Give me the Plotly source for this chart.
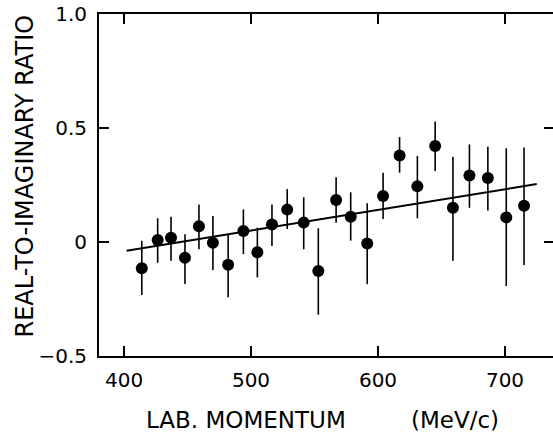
import plotly.graph_objects as go

momentum = [414, 426.5, 437, 448, 459, 470, 482, 494, 505, 516.5, 528.5, 541.5, 553,
            567, 578.5, 591.5, 604, 617, 631, 645, 659, 672, 686.5, 701, 715]
ratio = [-0.115, 0.009, 0.019, -0.069, 0.069, -0.003, -0.10, 0.048, -0.045, 0.077, 0.142, 0.085, -0.127,
         0.184, 0.111, -0.007, 0.202, 0.379, 0.244, 0.421, 0.15, 0.292, 0.281, 0.108, 0.159]
err_plus = [0.121, 0.095, 0.092, 0.103, 0.096, 0.117, 0.133, 0.095, 0.108, 0.088, 0.091, 0.111, 0.187,
            0.10, 0.107, 0.177, 0.102, 0.081, 0.133, 0.107, 0.224, 0.136, 0.137, 0.303, 0.256]
err_minus = [0.117, 0.10, 0.101, 0.115, 0.101, 0.12, 0.142, 0.101, 0.11, 0.094, 0.085, 0.117, 0.192,
             0.10, 0.105, 0.178, 0.101, 0.075, 0.14, 0.11, 0.232, 0.142, 0.143, 0.301, 0.26]

fit_x = [402, 725]
fit_y = [-0.038, 0.254]

x_ticks = [400, 500, 600, 700]
y_ticks = [-0.5, 0, 0.5, 1.0]
y_ticktext = ["\u22120.5", "0", "0.5", "1.0"]

FONT = "DejaVu Sans"

fig = go.Figure()
fig.add_trace(go.Scatter(x=fit_x, y=fit_y, mode="lines",
                         line=dict(color="black", width=2), showlegend=False))
fig.add_trace(go.Scatter(
    x=momentum, y=ratio, mode="markers",
    marker=dict(color="black", size=12, symbol="circle"),
    error_y=dict(type="data", symmetric=False, array=err_plus, arrayminus=err_minus,
                 color="black", thickness=1.6, width=0),
    showlegend=False))
# invisible trace to activate the right axis for mirrored ticks
fig.add_trace(go.Scatter(x=[400], y=[0], yaxis="y2", mode="markers",
                         marker=dict(opacity=0), showlegend=False, hoverinfo="skip"))

fig.update_layout(
    width=553, height=433,
    margin=dict(l=99, r=0, t=14, b=77),
    paper_bgcolor="white", plot_bgcolor="white",
    font=dict(family=FONT, color="black", size=20),
    xaxis=dict(range=[380.3, 737.8], tickvals=x_ticks, ticks="inside", ticklen=10,
               tickwidth=2, tickcolor="black", showline=True, linecolor="black",
               linewidth=2, mirror="ticks", showgrid=False, zeroline=False,
               tickfont=dict(family=FONT, size=20), ticklabelstandoff=5),
    yaxis=dict(range=[-0.5, 1.0], tickvals=y_ticks, ticktext=y_ticktext, ticks="inside",
               ticklen=10, tickwidth=2, tickcolor="black", showline=True,
               linecolor="black", linewidth=2, showgrid=False, zeroline=False,
               tickfont=dict(family=FONT, size=20), ticklabelstandoff=6),
    yaxis2=dict(range=[-0.5, 1.0], overlaying="y", side="right", tickvals=y_ticks,
                ticks="inside", ticklen=9, tickwidth=2, tickcolor="black",
                showticklabels=False, showline=False, showgrid=False, zeroline=False),
    annotations=[
        dict(text="REAL-TO-IMAGINARY RATIO", textangle=-90, xref="paper", yref="paper",
             x=(24-99)/454, y=(356-176.5)/342,
             xanchor="center", yanchor="middle", showarrow=False,
             font=dict(family=FONT, size=24)),
        dict(text="LAB. MOMENTUM", xref="paper", yref="paper",
             x=(144-99)/454, y=-(419.5-356)/342, xanchor="left", yanchor="middle",
             showarrow=False, font=dict(family=FONT, size=23)),
        dict(text="(MeV/c)", xref="paper", yref="paper",
             x=(501-99)/454, y=-(419.5-356)/342, xanchor="right", yanchor="middle",
             showarrow=False, font=dict(family=FONT, size=23)),
    ],
)

fig.write_html("out.html")
